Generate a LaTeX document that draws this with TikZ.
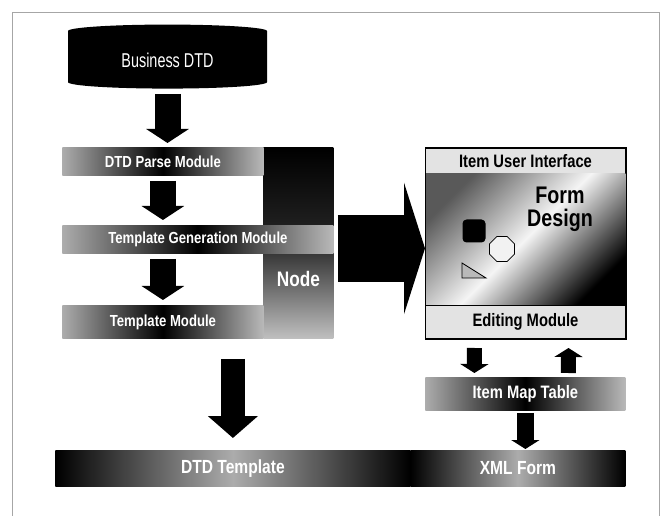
\documentclass[tikz,border=0pt]{standalone}
\usepackage{fontspec}
\setmainfont{Liberation Sans}
\newfontfamily\narrowfont[FakeStretch=0.72]{Liberation Sans}
\newfontfamily\boxfont[FakeStretch=0.82]{Liberation Sans}
\usetikzlibrary{arrows.meta,shapes,positioning,calc}

\begin{document}
\begin{tikzpicture}[x=1pt, y=-1pt, thick,
    bar/.style={rectangle, anchor=north west, inner sep=0pt, text=white, font=\boxfont\bfseries\fontsize{16}{16}\selectfont},
    darkbar/.style={bar, left color=gray!65, right color=gray!55, middle color=black},
    lightbar/.style={bar, draw=black, line width=1pt, fill=gray!22, text=black, font=\boxfont\bfseries\fontsize{18}{18}\selectfont},
    glowbar/.style={bar, left color=black, right color=black, middle color=gray!65, font=\boxfont\bfseries\fontsize{19}{19}\selectfont},
    fatarrow/.style={draw=black, line width=26pt, -{Triangle[width=42pt, length=14pt]}},
    bigarrow/.style={draw=black, line width=24pt, -{Triangle[width=49pt, length=22pt]}},
    thinarrow/.style={draw=black, line width=15pt, -{Triangle[width=28pt, length=9pt]}},
    wideright/.style={draw=black, line width=67pt, -{Triangle[width=131pt, length=21pt]}}]

    \useasboundingbox (0,0) rectangle (665,516);
    \draw[gray!70, line width=1pt] (12.5,520) -- (12.5,12.5) -- (659.5,12.5) -- (659.5,520);

    \node[cylinder, shape border rotate=90, aspect=0.14, fill=black, minimum width=199pt, minimum height=64pt, inner sep=0pt, text=white, font=\narrowfont\fontsize{20}{20}\selectfont] (biz) at (167.5,60) {Business DTD};

    % left modules
    \node[bar, minimum width=70pt, minimum height=191pt, top color=black, bottom color=gray!50, middle color=black!85,
        label={[yshift=-36pt, text=white, font=\boxfont\bfseries\fontsize{21}{21}\selectfont]center:Node}] (nodeblk) at (263,147) {};
    \node[darkbar, minimum width=201pt, minimum height=28pt] (parse) at (62,147) {DTD Parse Module};
    \node[darkbar, minimum width=271pt, minimum height=28pt] (tgen) at (62,225) {Template Generation Module};
    \node[darkbar, minimum width=201pt, minimum height=33pt] (tmod) at (62,305) {Template Module};

    % form editor
    \node[lightbar, minimum width=200pt, minimum height=25pt] (ui) at (425,148) {Item User Interface};
    \node[bar, minimum width=200pt, minimum height=132pt,
        top color=gray!70!black, bottom color=black, middle color=gray!8, shading angle=45] (design) at (425,173) {};
    \node[lightbar, minimum width=200pt, minimum height=33pt] (edit) at (425,305) {Editing Module};
    \draw[line width=1pt] (ui.north west) rectangle (edit.south east);
    \node[font=\boxfont\bfseries\fontsize{24}{23}\selectfont, align=center] (fdesign) at (560,209) {Form\\Design};
    \node[rounded corners=4pt, fill=black, minimum width=23pt, minimum height=23pt] (sq) at (474,231) {};
    \node[regular polygon, regular polygon sides=8, draw=black, fill=gray!10, minimum size=27pt, inner sep=0pt] (oct) at (502,249) {};
    \draw[fill=gray!55] (462,263) -- (462,278) -- (486,278) -- cycle;

    \node[darkbar, minimum width=200pt, minimum height=33pt, font=\boxfont\bfseries\fontsize{18}{18}\selectfont] (imap) at (425,377) {Item Map Table};

    % outputs
    \node[glowbar, minimum width=355pt, minimum height=36pt] (dtdtpl) at (55,450) {DTD Template};
    \node[glowbar, minimum width=215pt, minimum height=36pt] (xmlform) at (410,450) {XML Form};

    \path[fatarrow, shorten <=5pt, shorten >=4pt] (biz.south) -- (biz.south |- parse.north);
    \path[fatarrow, shorten <=5pt, shorten >=5pt] (parse.south) -- (parse.south |- tgen.north);
    \path[fatarrow, shorten <=5pt, shorten >=5pt] (parse.south |- tgen.south) -- (parse.south |- tmod.north);
    \path[wideright] ($(nodeblk.east)+(4,5.5)$) -- ($(nodeblk.east -| design.west)+(0,5.5)$);
    \path[bigarrow, shorten <=20pt, shorten >=12pt] (dtdtpl.north |- tmod.south) -- (dtdtpl.north);
    \path[thinarrow, shorten <=9pt, shorten >=4pt] ([xshift=-51pt]edit.south) -- ([xshift=-51pt]imap.north);
    \path[thinarrow, shorten <=4pt, shorten >=9pt] ([xshift=43pt]imap.north) -- ([xshift=43pt]edit.south);
    \path[thinarrow, line width=17pt, shorten <=2pt, shorten >=1pt] (imap.south) -- (imap.south |- xmlform.north);

\end{tikzpicture}
\end{document}
